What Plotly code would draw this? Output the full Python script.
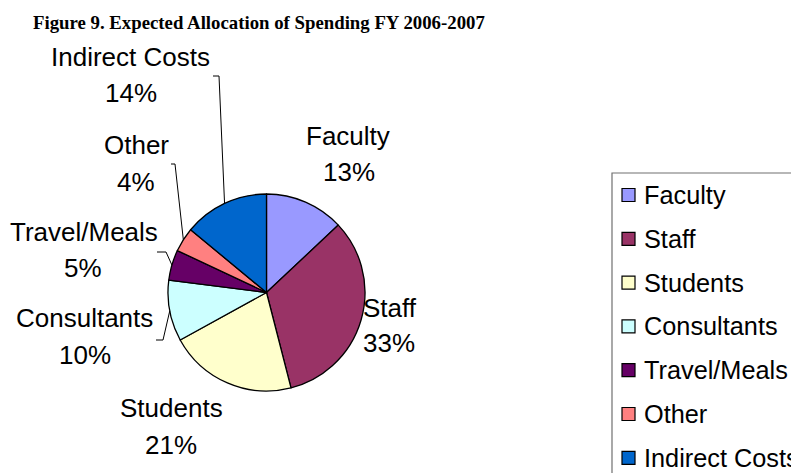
import math
import plotly.graph_objects as go

categories = ["Faculty", "Staff", "Students", "Consultants", "Travel/Meals", "Other", "Indirect Costs"]
shares = [13, 33, 21, 10, 5, 4, 14]
colors = ["#9999FF", "#993366", "#FFFFCC", "#CCFFFF", "#660066", "#FF8080", "#0066CC"]
title_text = "Figure 9. Expected Allocation of Spending FY 2006-2007"

OFF = 8  # page body margin
W, H = 799 - OFF, 473 - OFF  # keep the page inside the window (no scrollbars)
CX, CY, R = 266.5, 292.5, 98.5  # pie centre / radius in px (page coords)

def px(x):
    return (x - OFF) / W

def py(y):
    return 1 - (y - OFF) / H

# label placement (page px): name centre, percent centre, leader elbow (or None)
label_pos = {
    "Faculty": ((348, 136), (349, 172), None),
    "Staff": ((390, 308), (389, 343), None),
    "Students": ((171, 408), (171, 445), None),
    "Consultants": ((84, 318), (85, 355), ((156, 340), (163, 340))),
    "Travel/Meals": ((84, 232), (83, 268), ((157, 252), (166, 252))),
    "Other": ((136, 145), (136, 182), ((171, 164), (175, 164))),
    "Indirect Costs": ((131, 57), (131, 93), ((213, 76), (219, 76))),
}

fig = go.Figure(go.Pie(
    labels=categories, values=shares, sort=False, direction="clockwise", rotation=0,
    marker=dict(colors=colors, line=dict(color="black", width=1.3)),
    textinfo="none", hoverinfo="label+percent", showlegend=False,
    domain=dict(x=[px(CX - R), px(CX + R)], y=[py(CY + R), py(CY - R)]),
))

font = dict(family="Arial, Liberation Sans", size=26, color="black")
legend_font = dict(family="Arial, Liberation Sans", size=25.3, color="black")
annotations = []
shapes = []
total = sum(shares)
cum = 0
for name, val in zip(categories, shares):
    mid = (cum + val / 2) / total * 2 * math.pi
    cum += val
    (nx, ny), (qx, qy), leader = label_pos[name]
    pct = f"{round(val / total * 100)}%"
    annotations.append(dict(x=px(nx), y=py(ny), xref="paper", yref="paper", text=name,
                            showarrow=False, font=font, xanchor="center", yanchor="middle"))
    annotations.append(dict(x=px(qx), y=py(qy), xref="paper", yref="paper", text=pct,
                            showarrow=False, font=font, xanchor="center", yanchor="middle"))
    if leader:
        ex = CX + R * math.sin(mid)
        ey = CY - R * math.cos(mid)
        (ax, ay), (bx, by) = leader
        path = f"M {px(ax)} {py(ay)} L {px(bx)} {py(by)} L {px(ex)} {py(ey)}"
        shapes.append(dict(type="path", xref="paper", yref="paper", path=path,
                           line=dict(color="black", width=1)))

# legend (drawn manually to match spacing)
shapes.append(dict(type="rect", xref="paper", yref="paper",
                   x0=px(612), x1=px(840), y0=py(173), y1=py(510),
                   line=dict(color="#707070", width=1.2), fillcolor="rgba(0,0,0,0)"))
for i, (name, col) in enumerate(zip(categories, colors)):
    yc = 195 + i * 43.8
    shapes.append(dict(type="rect", xref="paper", yref="paper",
                       x0=px(622), x1=px(635), y0=py(yc + 6.5), y1=py(yc - 6.5),
                       line=dict(color="black", width=1.2), fillcolor=col))
    annotations.append(dict(x=px(641.5), y=py(yc), xref="paper", yref="paper", text=name,
                            showarrow=False, font=legend_font, xanchor="left", yanchor="middle"))

annotations.append(dict(x=px(31), y=py(23), xref="paper", yref="paper", text=f"<b>{title_text}</b>",
                        showarrow=False, xanchor="left", yanchor="middle",
                        font=dict(family="Times New Roman, Liberation Serif", size=18.8, color="black")))

fig.update_layout(width=W, height=H, margin=dict(l=0, r=0, t=0, b=0),
                  paper_bgcolor="white", plot_bgcolor="white",
                  annotations=annotations, shapes=shapes)
fig.write_html("out.html")
